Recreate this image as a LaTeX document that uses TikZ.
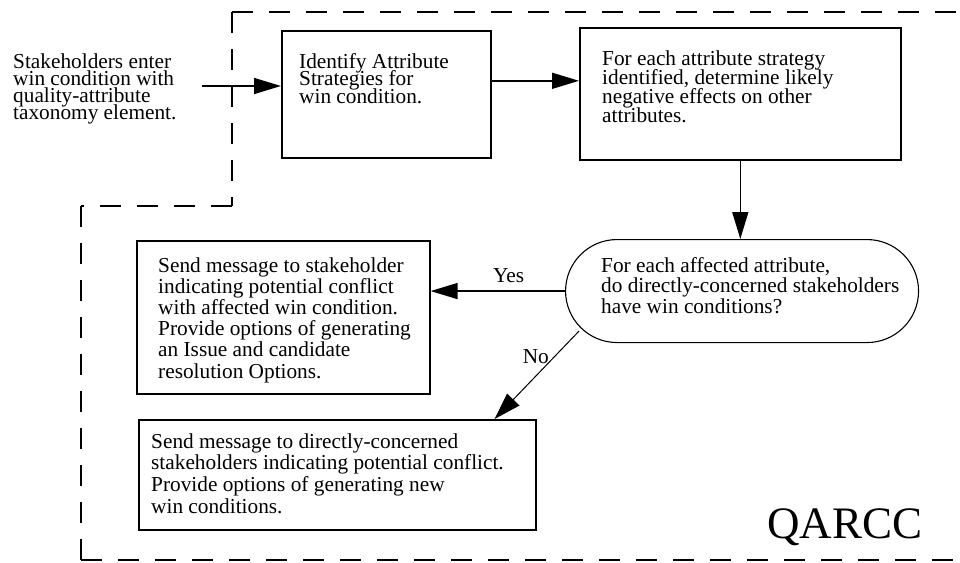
\documentclass[tikz,border=0pt]{standalone}
\usepackage{fontspec}
\setmainfont{Liberation Serif}
\usetikzlibrary{arrows.meta}

% multi-line text block: baseline = first line, fixed line pitch
\newcommand\txtblock[2]{\vtop{\baselineskip=#1\lineskiplimit=-\maxdimen\lineskip=0pt\halign{##\hfil\cr#2\crcr}}}

\tikzset{
  stepbox/.style={draw, line width=1.6pt, inner sep=0pt, anchor=north west},
  decbox/.style={draw, line width=1.1pt, inner sep=0pt, anchor=north west, rounded corners=51.5pt},
  txt/.style={inner sep=0pt, anchor=base west, font=\fontsize{21.3}{21.3}\selectfont},
  lbl/.style={inner sep=0pt, font=\fontsize{21.3}{21.3}\selectfont},
  flow/.style={line width=1.5pt, -{Triangle[length=27pt,width=16pt]}},
  thinflow/.style={line width=1pt, -{Triangle[length=27pt,width=17pt]}},
  boundary/.style={line width=1.8pt, dash pattern=on 21pt off 16pt},
}

\begin{document}
\begin{tikzpicture}[x=1pt, y=-1pt]
\useasboundingbox (0,0) rectangle (960,562);

% process boundary
\draw[boundary] (232,12) -- (960,12);
\draw[boundary] (232,12) -- (232,206);
\draw[boundary] (232,206) -- (81,206);
\draw[boundary] (81,206) -- (81,560);
\draw[boundary] (81,560) -- (960,560);

% input text
\node[txt] (input) at (13,68) {\txtblock{17.3pt}{Stakeholders enter\cr win condition with\cr quality-attribute\cr taxonomy element.}};

% step boxes
\node[stepbox, minimum width=209pt, minimum height=127pt] (box1) at (281,30) {};
\node[txt] (t1) at (299,68) {\txtblock{17.5pt}{Identify Attribute\cr Strategies for\cr win condition.}};

\node[stepbox, minimum width=321pt, minimum height=132pt] (box2) at (579,27) {};
\node[txt] (t2) at (602,65) {\txtblock{19.3pt}{For each attribute strategy\cr identified, determine likely\cr negative effects on other\cr attributes.}};

\node[decbox, minimum width=353pt, minimum height=103pt] (dec) at (565,239) {};
\node[txt] (td) at (601,272) {\txtblock{20.7pt}{For each affected attribute,\cr do directly-concerned stakeholders\cr have win conditions?}};

\node[stepbox, minimum width=293pt, minimum height=153pt] (box3) at (136,240) {};
\node[txt] (t3) at (158,272) {\txtblock{21.2pt}{Send message to stakeholder\cr indicating potential conflict\cr with affected win condition.\cr Provide options of generating\cr an Issue and candidate\cr resolution Options.}};

\node[stepbox, minimum width=397pt, minimum height=110pt] (box4) at (138,419) {};
\node[txt] (t4) at (151,448) {\txtblock{21.7pt}{Send message to directly-concerned\cr stakeholders indicating potential conflict.\cr Provide options of generating new\cr win conditions.}};

% title
\node[inner sep=0pt, anchor=base west, font=\fontsize{45}{45}\selectfont] (title) at (767,538) {QARCC};

% connectors
\coordinate (src) at (202,86);
\draw[flow] (src) -- (src -| box1.west);
\draw[flow] ([yshift=13.5pt]box1.east) coordinate (a12) -- (a12 -| box2.west);
\draw[flow] (box2.south) -- (box2.south |- dec.north);
\draw[flow] (dec.west) -- (dec.west -| box3.east)
  node[lbl, pos=0.42, anchor=base, yshift=8.5pt] {Yes};
\draw[thinflow] ([xshift=14pt,yshift=12pt]dec.south west) -- ([xshift=-42pt]box4.north east)
  node[lbl, pos=0.37, anchor=base, xshift=-12pt] {No};
\end{tikzpicture}
\end{document}
